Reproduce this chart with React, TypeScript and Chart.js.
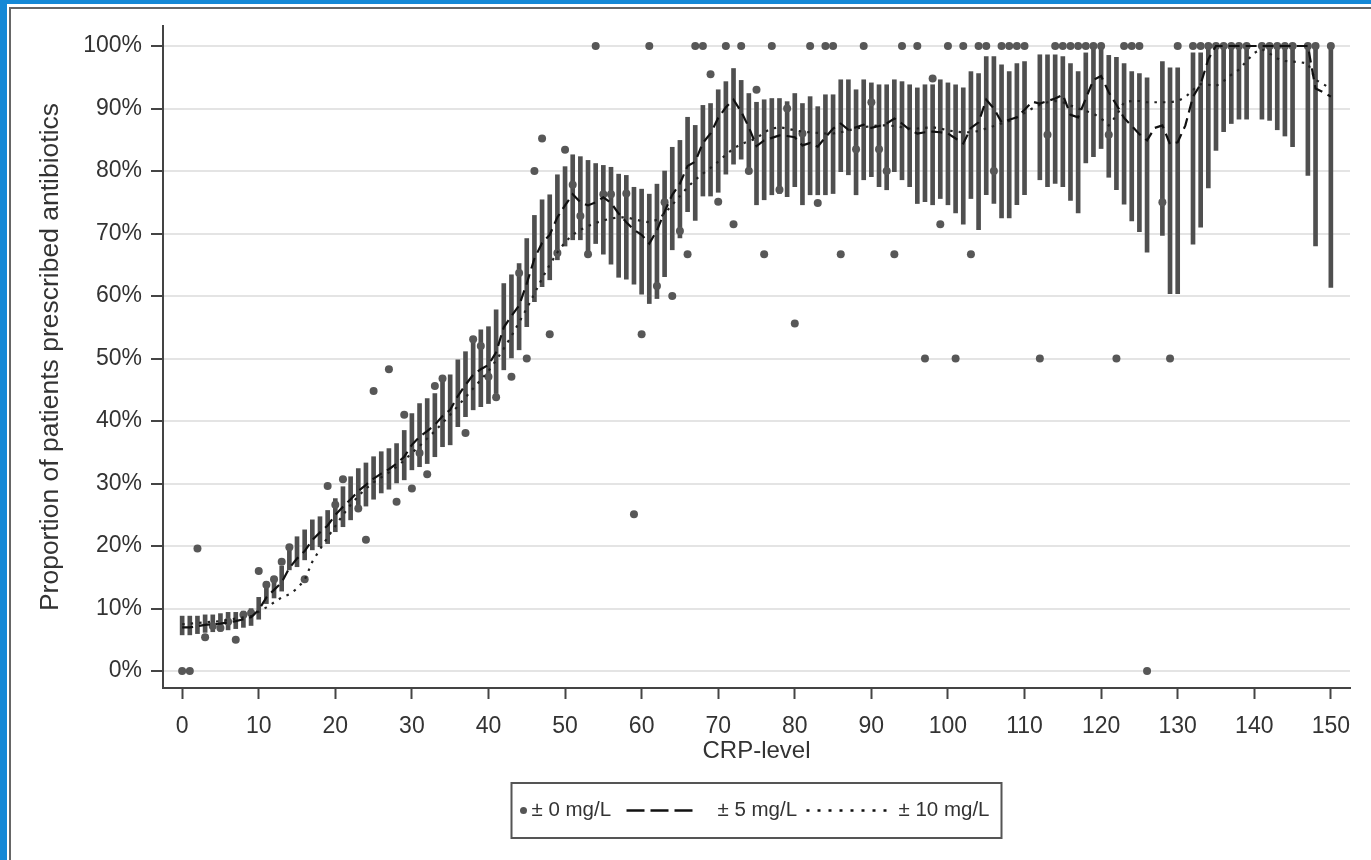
import React, { useEffect, useRef } from "react";
import { Chart, registerables } from "chart.js";

Chart.register(...registerables);

const FONT = '"Liberation Sans", Arial, Helvetica, sans-serif';

// CRP levels 0..150
const crpLevels: number[] = [];
for (let i = 0; i <= 150; i++) crpLevels.push(i);

const xTickValues: number[] = [0, 10, 20, 30, 40, 50, 60, 70, 80, 90, 100, 110, 120, 130, 140, 150];
const yTickValues: number[] = [0, 10, 20, 30, 40, 50, 60, 70, 80, 90, 100];

const legendLabels: string[] = ["± 0 mg/L", "± 5 mg/L", "± 10 mg/L"];

// ± 0 mg/L : observed proportion at exactly this CRP level (%)
const pct0: (number | null)[] = [
  0, 0, 19.6, 5.4, 7.2, 6.9, 7.9, 5.0, 9.0, 9.3,
  16.0, 13.8, 14.7, 17.5, 19.8, null, 14.7, null, null, 29.6,
  26.6, 30.7, null, 26.0, 21.0, 44.8, null, 48.3, 27.1, 41.0,
  29.2, 34.9, 31.5, 45.6, 46.8, null, null, 38.1, 53.1, 52.0,
  47.1, 43.8, null, 47.1, 63.7, 50.0, 80.0, 85.2, 53.9, 66.9,
  83.4, 77.8, 72.8, 66.7, 100, 76.3, 76.3, null, 76.4, 25.1,
  53.9, 100, 61.6, 75.0, 60.0, 70.4, 66.7, 100, 100, 95.5,
  75.1, 100, 71.5, 100, 80.0, 93.0, 66.7, 100, 77.0, 90.0,
  55.6, 86.0, 100, 74.9, 100, 100, 66.7, null, 83.5, 100,
  91.0, 83.5, 80.0, 66.7, 100, null, 100, 50.0, 94.8, 71.5,
  100, 50.0, 100, 66.7, 100, 100, 80.0, 100, 100, 100,
  100, null, 50.0, 85.8, 100, 100, 100, 100, 100, 100,
  100, 85.8, 50.0, 100, 100, 100, 0, null, 75.0, 50.0,
  100, null, 100, 100, 100, 100, 100, 100, 100, 100,
  null, 100, 100, 100, 100, 100, null, 100, 100, null,
  100,
];

// ± 5 mg/L window (%)
const pct5: number[] = [
  7.0, 7.0, 7.2, 7.4, 7.5, 7.6, 7.8, 8.0, 8.3, 8.6,
  9.8, 11.8, 13.0, 14.2, 16.5, 18.0, 19.2, 21.0, 22.2, 23.3,
  25.0, 26.3, 27.5, 28.8, 29.8, 30.8, 31.6, 32.3, 33.2, 34.3,
  36.2, 37.5, 38.4, 39.4, 40.8, 41.8, 44.0, 45.8, 47.4, 48.3,
  49.0, 51.0, 55.0, 56.8, 58.5, 62.0, 66.0, 68.5, 69.8, 72.6,
  74.5, 76.3, 75.0, 74.5, 75.0, 75.8, 74.9, 73.2, 71.8, 70.6,
  69.8, 68.4, 70.5, 73.5, 76.2, 78.0, 80.8, 81.5, 84.5, 86.0,
  88.5, 90.2, 91.4, 89.5, 87.0, 84.0, 84.9, 85.3, 85.7, 85.6,
  85.4, 84.1, 84.5, 83.9, 85.4, 86.8, 87.6, 86.6, 87.0, 87.4,
  86.9, 87.2, 87.6, 88.4, 87.6, 86.6, 86.0, 86.2, 86.3, 86.2,
  86.0, 85.2, 84.4, 86.9, 87.8, 91.4, 90.0, 87.8, 88.2, 88.6,
  89.8, 91.1, 90.8, 91.2, 91.6, 92.2, 89.0, 88.6, 91.6, 94.6,
  95.2, 92.6, 90.6, 88.5, 87.2, 85.9, 84.9, 86.9, 87.3, 84.3,
  84.6, 87.3, 91.9, 93.9, 97.9, 100, 100, 100, 100, 100,
  100, 100, 100, 100, 100, 100, 100, 100, 93.2, 92.6,
  91.9,
];

// ± 10 mg/L window (%)
const pct10: number[] = [
  7.5, 7.6, 7.7, 7.8, 7.9, 8.0, 8.2, 8.4, 8.6, 8.8,
  9.5, 10.2, 11.0, 11.8, 12.3, 13.2, 14.6, 17.5, 19.5, 21.4,
  23.2, 25.0, 26.6, 28.0, 29.2, 30.2, 31.0, 31.8, 32.7, 33.7,
  34.9, 36.0, 37.2, 38.4, 39.7, 41.0, 42.4, 43.8, 45.2, 46.6,
  48.0, 49.7, 51.6, 53.6, 55.8, 58.0, 60.4, 62.8, 65.0, 67.0,
  68.6, 69.8, 70.6, 71.2, 71.7, 72.1, 72.4, 72.6, 72.6, 72.3,
  72.0, 71.8, 72.2, 73.2, 74.6, 76.0, 77.4, 78.6, 79.6, 80.5,
  81.5, 82.6, 83.6, 84.3, 84.8, 85.2, 86.2, 86.8, 87.0, 86.8,
  86.5, 86.3, 86.2, 86.1, 86.0, 86.0, 86.2, 86.5, 86.8, 87.0,
  87.2, 87.3, 87.3, 87.2, 87.0, 86.8, 86.8, 86.9, 87.0, 86.8,
  86.5, 86.3, 86.2, 86.2, 86.4, 86.8, 87.2, 87.6, 88.0, 88.6,
  89.3, 90.0, 90.6, 91.0, 91.2, 91.0, 90.5, 90.0, 89.6, 89.2,
  88.4, 87.3, 88.9, 91.0, 91.2, 91.2, 91.0, 91.0, 91.0, 91.0,
  91.2, 91.8, 93.0, 93.9, 93.8, 93.6, 94.4, 95.4, 96.2, 97.6,
  98.9, 99.5, 98.8, 98.0, 97.6, 97.5, 97.4, 97.2, 94.6, 93.9,
  93.2,
];

// 95% CI of the ± 5 mg/L estimate (%)
const ciLow: (number | null)[] = [
  5.8, 5.8, 6.0, 6.2, 6.3, 6.4, 6.6, 6.8, 7.0, 7.3,
  8.3, 10.8, 11.7, 12.8, 16.2, 16.7, 17.8, 19.4, 19.9, 20.4,
  22.3, 23.1, 24.2, 25.8, 26.4, 27.5, 28.5, 29.1, 30.1, 30.6,
  32.2, 32.7, 33.2, 34.3, 35.9, 36.2, 39.1, 40.7, 41.8, 42.3,
  42.8, 44.4, 48.2, 50.1, 51.4, 55.1, 59.1, 61.5, 62.6, 65.8,
  68.0, 69.0, 69.0, 66.7, 68.4, 66.7, 65.1, 63.0, 62.7, 61.9,
  60.3, 58.8, 59.6, 63.1, 67.4, 69.3, 73.5, 72.1, 76.0, 76.0,
  76.6, 79.5, 81.1, 81.9, 79.9, 74.6, 75.4, 76.2, 76.4, 75.9,
  77.5, 74.6, 76.2, 76.2, 76.2, 76.4, 79.9, 79.4, 76.2, 78.6,
  79.1, 77.5, 77.0, 79.9, 78.6, 77.5, 74.8, 75.1, 74.6, 75.6,
  74.6, 73.3, 71.5, 75.6, 70.6, 76.2, 74.8, 72.5, 72.5, 74.6,
  76.2, null, 78.6, 77.5, 78.0, 77.5, 75.3, 73.3, 81.3, 82.3,
  83.6, 79.0, 77.0, 74.7, 72.0, 70.3, 67.0, null, 69.7, 60.4,
  60.4, null, 68.3, 71.0, 77.3, 83.3, 86.3, 87.6, 88.3, 88.3,
  null, 88.3, 88.1, 86.6, 85.6, 83.9, null, 79.3, 68.0, null,
  61.4,
];

const ciHigh: (number | null)[] = [
  8.8, 8.8, 8.8, 9.0, 9.0, 9.2, 9.4, 9.4, 9.6, 10.0,
  11.8, 14.3, 15.1, 16.8, 19.9, 21.5, 22.6, 24.2, 24.7, 25.7,
  27.6, 29.5, 31.1, 32.4, 33.3, 34.3, 35.1, 35.6, 36.4, 38.5,
  41.2, 42.8, 43.6, 44.4, 46.8, 47.4, 49.8, 51.1, 53.5, 54.6,
  55.1, 57.8, 62.0, 63.4, 65.2, 69.2, 72.9, 75.4, 76.2, 79.4,
  80.7, 82.6, 82.3, 81.7, 81.2, 80.9, 80.6, 79.5, 79.3, 77.4,
  77.1, 76.3, 77.9, 80.0, 83.8, 84.9, 88.6, 87.3, 90.5, 90.8,
  93.0, 94.3, 96.4, 94.5, 92.4, 91.0, 91.4, 91.6, 91.6, 91.1,
  92.4, 90.8, 91.9, 90.3, 92.2, 92.2, 94.6, 94.6, 93.0, 94.6,
  94.1, 93.8, 93.8, 94.6, 94.3, 93.8, 93.3, 93.8, 93.8, 94.6,
  94.1, 93.8, 93.3, 95.9, 95.6, 98.3, 98.3, 97.0, 95.9, 97.2,
  97.5, null, 98.6, 98.6, 98.6, 98.3, 97.2, 95.9, 98.9, 99.9,
  99.5, 98.5, 98.2, 97.2, 95.9, 95.6, 94.9, null, 97.5, 96.5,
  96.5, null, 98.9, 98.9, 99.9, 100, 100, 100, 100, 100,
  null, 100, 100, 100, 100, 100, null, 100, 100, null,
  100,
];

const legendPlugin = {
  id: "stataLegend",
  afterDraw(chart: any) {
    const ctx = chart.ctx as CanvasRenderingContext2D;
    const area = chart.chartArea;
    const cx = (area.left + area.right) / 2;
    const boxW = 490;
    const boxH = 55;
    const left = cx - boxW / 2;
    const top = area.bottom + 95;
    const midY = top + boxH / 2;
    ctx.save();
    ctx.strokeStyle = "#555";
    ctx.lineWidth = 2;
    ctx.setLineDash([]);
    ctx.strokeRect(left, top, boxW, boxH);

    ctx.font = `20.5px ${FONT}`;
    ctx.textBaseline = "middle";
    ctx.textAlign = "left";

    // item 1: dot
    ctx.fillStyle = "#555";
    ctx.beginPath();
    ctx.arc(left + 12, midY, 3.5, 0, Math.PI * 2);
    ctx.fill();
    ctx.fillStyle = "#333";
    ctx.fillText(legendLabels[0], left + 20, midY);

    // item 2: dashed
    ctx.strokeStyle = "#111";
    ctx.lineWidth = 2.5;
    ctx.setLineDash([18, 6]);
    ctx.beginPath();
    ctx.moveTo(left + 115, midY);
    ctx.lineTo(left + 181, midY);
    ctx.stroke();
    ctx.setLineDash([]);
    ctx.fillText(legendLabels[1], left + 206, midY);

    // item 3: dotted
    ctx.setLineDash([3, 8]);
    ctx.beginPath();
    ctx.moveTo(left + 295, midY);
    ctx.lineTo(left + 382, midY);
    ctx.stroke();
    ctx.setLineDash([]);
    ctx.fillText(legendLabels[2], left + 387, midY);
    ctx.restore();
  },
};

export default function App() {
  const canvasRef = useRef<HTMLCanvasElement | null>(null);

  useEffect(() => {
    const canvas = canvasRef.current;
    if (!canvas) return;

    const barData = crpLevels
      .map((x, i) => (ciLow[i] == null || ciHigh[i] == null ? null : { x, y: [ciLow[i], ciHigh[i]] }))
      .filter((d) => d !== null);
    const dotData = crpLevels
      .map((x, i) => (pct0[i] == null ? null : { x, y: pct0[i] }))
      .filter((d) => d !== null);
    const line5 = crpLevels.map((x, i) => ({ x, y: pct5[i] }));
    const line10 = crpLevels.map((x, i) => ({ x, y: pct10[i] }));

    const chart = new Chart(canvas, {
      type: "scatter",
      data: {
        datasets: [
          {
            type: "line",
            label: legendLabels[1],
            data: line5,
            borderColor: "#111",
            borderWidth: 2.2,
            borderDash: [11, 6],
            pointRadius: 0,
            fill: false,
            tension: 0,
            order: 0,
          } as any,
          {
            type: "line",
            label: legendLabels[2],
            data: line10,
            borderColor: "#222",
            borderWidth: 2.2,
            borderDash: [2.5, 6],
            pointRadius: 0,
            fill: false,
            tension: 0,
            order: 1,
          } as any,
          {
            type: "scatter",
            label: legendLabels[0],
            data: dotData,
            backgroundColor: "#575757",
            borderWidth: 0,
            pointRadius: 4,
            order: 2,
          } as any,
          {
            type: "bar",
            label: "95% CI",
            data: barData,
            backgroundColor: "#4f4f4f",
            barThickness: 4,
            order: 3,
          } as any,
        ],
      },
      options: {
        responsive: false,
        animation: false,
        events: [],
        layout: { padding: { left: 30, top: 26, right: 21, bottom: 72 } },
        plugins: {
          legend: { display: false },
          tooltip: { enabled: false },
        },
        scales: {
          x: {
            type: "linear",
            min: -2.5,
            max: 152.5,
            offset: false,
            afterBuildTicks: (s: any) => {
              s.ticks = xTickValues.map((v) => ({ value: v }));
            },
            afterFit: (s: any) => {
              s.height = 100;
            },
            ticks: {
              font: { family: FONT, size: 23 },
              color: "#333",
              padding: 14,
              maxRotation: 0,
              autoSkip: false,
            },
            grid: {
              display: true,
              offset: false,
              drawOnChartArea: false,
              drawTicks: true,
              tickLength: 11,
              tickColor: "#444",
              tickWidth: 2,
            },
            border: { display: true, color: "#444", width: 2 },
            title: {
              display: true,
              text: "CRP-level",
              font: { family: FONT, size: 24 },
              color: "#333",
              padding: { top: 0, bottom: 22 },
            },
          },
          y: {
            type: "linear",
            min: -2.7,
            max: 103.2,
            beginAtZero: false,
            afterBuildTicks: (s: any) => {
              s.ticks = yTickValues.map((v) => ({ value: v }));
            },
            afterFit: (s: any) => {
              s.width = 133;
            },
            ticks: {
              font: { family: FONT, size: 23 },
              color: "#333",
              padding: 9,
              callback: (v: any) => `${v}%`,
            },
            grid: {
              color: "#e4e4e4",
              lineWidth: 2,
              drawTicks: true,
              tickLength: 12,
              tickColor: "#444",
              tickWidth: 2,
            },
            border: { display: true, color: "#444", width: 2 },
            title: {
              display: true,
              text: "Proportion of patients prescribed antibiotics",
              font: { family: FONT, size: 26.5 },
              color: "#333",
              padding: { top: 5, bottom: 0 },
            },
          },
        },
      } as any,
      plugins: [legendPlugin],
    });

    return () => chart.destroy();
  }, []);

  const BLUE = "#1488d6";
  return (
    <div
      style={{
        position: "absolute",
        left: 0,
        top: 0,
        width: 1371,
        height: 860,
        background: "#fff",
        overflow: "hidden",
      }}
    >
      <div style={{ position: "absolute", left: 0, top: 0, width: 7, height: 860, background: BLUE }} />
      <div style={{ position: "absolute", left: 0, top: 0, width: 1371, height: 4, background: BLUE }} />
      <div
        style={{
          position: "absolute",
          left: 9,
          top: 7,
          width: 1362,
          height: 853,
          borderLeft: "2px solid #666",
          borderTop: "2px solid #666",
          boxSizing: "border-box",
        }}
      />
      <canvas
        ref={canvasRef}
        width={1371}
        height={860}
        style={{ position: "absolute", left: 0, top: 0, width: 1371, height: 860 }}
      />
    </div>
  );
}
